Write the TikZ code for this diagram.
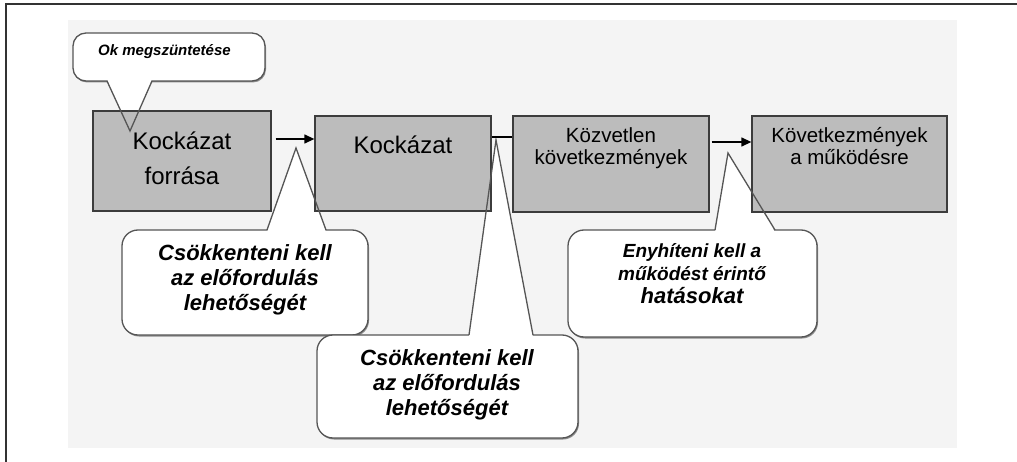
\documentclass[tikz,border=0pt]{standalone}
\usepackage{fontspec}
\setmainfont{Liberation Sans}
\usetikzlibrary{arrows.meta}

\definecolor{boxgrey}{HTML}{BCBCBC}
\definecolor{boxline}{HTML}{3C3C3C}
\definecolor{bubbleline}{HTML}{555555}
\definecolor{framecol}{HTML}{333333}
\definecolor{paper}{HTML}{F4F4F4}

\tikzset{
  stagebox/.style={draw=boxline, fill=boxgrey, line width=1.3pt, inner sep=0pt},
  stagetext/.style={align=center, inner sep=0pt, text=black},
  bubble/.style={draw=bubbleline, fill=white, line width=1.3pt, rounded corners=16pt, inner sep=0pt},
  bubbleshadow/.style={fill=black!45, rounded corners=16pt, draw=none, inner sep=0pt},
  bubbletext/.style={align=center, inner sep=0pt, font=\bfseries\itshape},
  pointer/.style={draw=bubbleline, line width=1.3pt, line join=miter},
  pointerfill/.style={fill=white, draw=none},
  conn/.style={draw=black, line width=1.3pt},
  connarrow/.style={conn, -{Triangle[length=10pt,width=9pt]}}
}

\begin{document}
\begin{tikzpicture}[x=1pt,y=-1pt]
\useasboundingbox (0,0) rectangle (1017,462);

% page frame and tinted sheet
\draw[framecol, line width=2pt] (6,462) -- (6,4) -- (1017,4);
\fill[paper] (68,20) rectangle (957,448);

% callout bodies (with a soft drop shadow)
\node[bubbleshadow, rounded corners=13pt, minimum width=192pt, minimum height=48pt] at (170,58.5) {};
\node[bubble, rounded corners=13pt, minimum width=192pt, minimum height=48pt] (c0) at (169,57) {};
\node[bubbleshadow, minimum width=246pt, minimum height=105pt] at (246,284) {};
\node[bubble, minimum width=246pt, minimum height=105pt] (c1) at (245,282.5) {};
\node[bubbleshadow, minimum width=261pt, minimum height=103pt] at (448.5,388) {};
\node[bubble, minimum width=261pt, minimum height=103pt] (c2) at (447.5,386.5) {};
\node[bubbleshadow, minimum width=249pt, minimum height=107pt] at (693.5,285) {};
\node[bubble, minimum width=249pt, minimum height=107pt] (c3) at (692.5,283.5) {};

% pointer tips and bases
\coordinate (k0) at (130,131);  \coordinate (k0a) at (107,81);  \coordinate (k0b) at (152,81);
\coordinate (k1) at (296,148);  \coordinate (k1a) at (267,230); \coordinate (k1b) at (326,230);
\coordinate (k2) at (496,140);  \coordinate (k2a) at (469,335); \coordinate (k2b) at (533,335);
\coordinate (k3) at (728,153);  \coordinate (k3a) at (715,230); \coordinate (k3b) at (775,230);

% open the bubble outline where each pointer leaves it
\fill[pointerfill] ([yshift=2pt]k0a) -- (k0) -- ([yshift=2pt]k0b) -- cycle;
\fill[pointerfill] ([yshift=-2pt]k1a) -- (k1) -- ([yshift=-2pt]k1b) -- cycle;
\fill[pointerfill] ([yshift=-2pt]k2a) -- (k2) -- ([yshift=-2pt]k2b) -- cycle;
\fill[pointerfill] ([yshift=-2pt]k3a) -- (k3) -- ([yshift=-2pt]k3b) -- cycle;

% process stages
\node[stagebox, minimum width=178pt, minimum height=100pt] (b1) at (182,161) {};
\node[stagebox, minimum width=176pt, minimum height=95pt]  (b2) at (403,163.5) {};
\node[stagebox, minimum width=196pt, minimum height=96pt]  (b3) at (611,164) {};
\node[stagebox, minimum width=195pt, minimum height=96pt]  (b4) at (849.5,164) {};

% pointer edges, drawn over the stages
\draw[pointer] (k0a) -- (k0) -- (k0b);
\draw[pointer] (k1a) -- (k1) -- (k1b);
\draw[pointer] (k2a) -- (k2) -- (k2b);
\draw[pointer] (k3a) -- (k3) -- (k3b);

% stage labels
\node[stagetext, font=\fontsize{24}{35}\selectfont] (t1) at (182,158.6) {Kockázat\\forrása};
\node[stagetext, font=\fontsize{24}{35}\selectfont] (t2) at (403,145) {Kockázat};
\node[stagetext, font=\fontsize{20.5}{22}\selectfont] (t3) at (611,147.8) {Közvetlen\\következmények};
\node[stagetext, font=\fontsize{20.5}{22}\selectfont] (t4) at (849.5,145.7) {Következmények\\a működésre};

% callout labels
\node[bubbletext, font=\fontsize{15}{18}\selectfont\bfseries\itshape] (u0) at (164.5,51.5) {Ok megszüntetése};
\node[bubbletext, font=\fontsize{22}{25}\selectfont\bfseries\itshape] (u1) at (245,280.3) {Csökkenteni kell\\az előfordulás\\lehetőségét};
\node[bubbletext, font=\fontsize{22}{25}\selectfont\bfseries\itshape] (u2) at (447,385.3) {Csökkenteni kell\\az előfordulás\\lehetőségét};
\node[bubbletext, font=\fontsize{19}{23}\selectfont\bfseries\itshape] (u3) at (692,274) {Enyhíteni kell a\\működést érintő\\\fontsize{22}{25}\selectfont hatásokat};

% connectors between stages
\draw[connarrow, shorten <=4pt] ([yshift=22pt]b1.east) coordinate (s1) -- (b2.west |- s1);
\draw[conn] ([yshift=26.5pt]b2.east) coordinate (s2) -- (b3.west |- s2);
\draw[connarrow, shorten <=2pt] ([yshift=22pt]b3.east) coordinate (s3) -- (b4.west |- s3);
\end{tikzpicture}
\end{document}
